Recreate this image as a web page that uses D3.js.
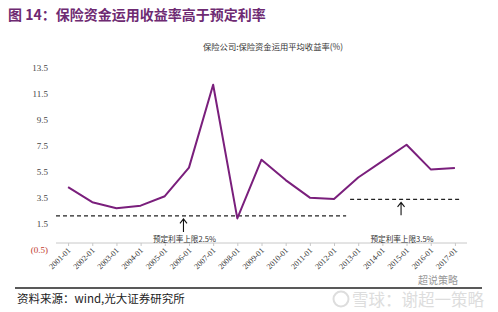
<!DOCTYPE html>
<html>
<head>
<meta charset="utf-8">
<script src="https://cdn.jsdelivr.net/npm/d3@7"></script>
<style>
  body { margin: 0; background: #fff; }
  svg { display: block; }
</style>
</head>
<body>
<svg id="chart" width="498" height="312"></svg>
<script>
// chart data
const years = ['2001-01', '2002-01', '2003-01', '2004-01', '2005-01', '2006-01', '2007-01', '2008-01', '2009-01',
  '2010-01', '2011-01', '2012-01', '2013-01', '2014-01', '2015-01', '2016-01', '2017-01']
const returns = [4.3, 3.14, 2.68, 2.87, 3.6, 5.8, 12.17, 1.89, 6.41, 4.84, 3.49, 3.39, 5.04, 6.3, 7.56, 5.66, 5.77]
const yTicks = [-0.5, 1.5, 3.5, 5.5, 7.5, 9.5, 11.5, 13.5]
// predetermined-rate cap lines (drawn level, label text)
const capLines = [
  { from: null, to: '2012-01', value: 2.08, arrowAt: '2006-01', label: '预定利率上限2.5%' },
  { from: '2013-01', to: null, value: 3.36, arrowAt: '2015-01', label: '预定利率上限3.5%' }
]

const svg = d3.select('#chart')
const purple = '#7a1f7c'
const serif = '"Liberation Serif", "Times New Roman", serif'
const cjk = '"Noto Sans CJK SC", sans-serif'

const x = d3.scalePoint().domain(years).range([56, 467]).padding(0.5)
const y = d3.scaleLinear().domain([0, 13.5]).range([243, 67.5])

// title
svg.append('text')
  .attr('x', 8).attr('y', 20)
  .attr('fill', '#6e2a72')
  .attr('font-family', cjk)
  .attr('font-weight', 'bold')
  .attr('font-size', 14)
  .text('图 14：保险资金运用收益率高于预定利率')

// legend
svg.append('text')
  .attr('x', 343).attr('y', 50)
  .attr('text-anchor', 'end')
  .attr('fill', '#333')
  .attr('font-family', cjk)
  .attr('font-size', 8.3)
  .text('保险公司:保险资金运用平均收益率(%)')

// y labels (no axis line)
svg.append('g').selectAll('text')
  .data(yTicks)
  .join('text')
  .attr('x', 48)
  .attr('y', d => y(d) + 3)
  .attr('text-anchor', 'end')
  .attr('font-family', serif)
  .attr('font-size', 9)
  .attr('fill', d => d < 0 ? '#c0392b' : '#444')
  .text(d => d < 0 ? `(${Math.abs(d)})` : d)

// x axis at zero
const xAxis = svg.append('g')
  .attr('transform', `translate(0,${y(0)})`)
  .call(d3.axisBottom(x).tickSize(3).tickFormat(''))
xAxis.select('.domain').attr('stroke', '#c8c8c8').attr('d', 'M56,0H467')
xAxis.selectAll('.tick line').attr('stroke', '#c8c8c8')

svg.append('g').selectAll('text')
  .data(years)
  .join('text')
  .attr('transform', d => `translate(${x(d) + 3},${y(0) + 8}) rotate(-45)`)
  .attr('text-anchor', 'end')
  .attr('font-family', serif)
  .attr('font-size', 8)
  .attr('fill', '#333')
  .text(d => d)

// cap lines, arrows and labels
const step = x.step()
capLines.forEach(c => {
  const x0 = c.from ? x(c.from) - step / 2 + 4 : 56
  const x1 = c.to ? x(c.to) + step / 2 : 461
  const yy = y(c.value)
  svg.append('line')
    .attr('x1', x0).attr('x2', x1)
    .attr('y1', yy).attr('y2', yy)
    .attr('stroke', '#222')
    .attr('stroke-width', 1.2)
    .attr('stroke-dasharray', '4,3')
  const ax = x(c.arrowAt) - 5.5
  svg.append('path')
    .attr('d', `M${ax},${yy + 3}V${yy + 16}M${ax - 3.5},${yy + 7.5}L${ax},${yy + 3}L${ax + 3.5},${yy + 7.5}`)
    .attr('fill', 'none')
    .attr('stroke', '#111')
    .attr('stroke-width', 1.1)
  svg.append('text')
    .attr('x', ax + 1).attr('y', 242)
    .attr('text-anchor', 'middle')
    .attr('font-family', cjk)
    .attr('font-size', 7.6)
    .attr('fill', '#333')
    .text(c.label)
})

// return series
svg.append('path')
  .datum(returns)
  .attr('fill', 'none')
  .attr('stroke', purple)
  .attr('stroke-width', 2)
  .attr('stroke-linejoin', 'round')
  .attr('d', d3.line().x((d, i) => x(years[i])).y(d => y(d)))

// footer
svg.append('line')
  .attr('x1', 15).attr('x2', 482)
  .attr('y1', 288).attr('y2', 288)
  .attr('stroke', '#222')
  .attr('stroke-width', 1.3)
svg.append('text')
  .attr('x', 17).attr('y', 303)
  .attr('font-family', cjk)
  .attr('font-size', 11.5)
  .attr('fill', '#222')
  .text('资料来源：wind,光大证券研究所')

// watermark
svg.append('text')
  .attr('x', 418).attr('y', 284)
  .attr('font-family', cjk)
  .attr('font-size', 10)
  .attr('fill', '#999')
  .text('超说策略')
svg.append('circle')
  .attr('cx', 341).attr('cy', 299).attr('r', 7.5)
  .attr('fill', 'none').attr('stroke', '#ddd').attr('stroke-width', 2)
svg.append('text')
  .attr('x', 352).attr('y', 306)
  .attr('font-family', cjk)
  .attr('font-size', 16.5)
  .attr('fill', '#ddd')
  .text('雪球：谢超一策略')
</script>
</body>
</html>
